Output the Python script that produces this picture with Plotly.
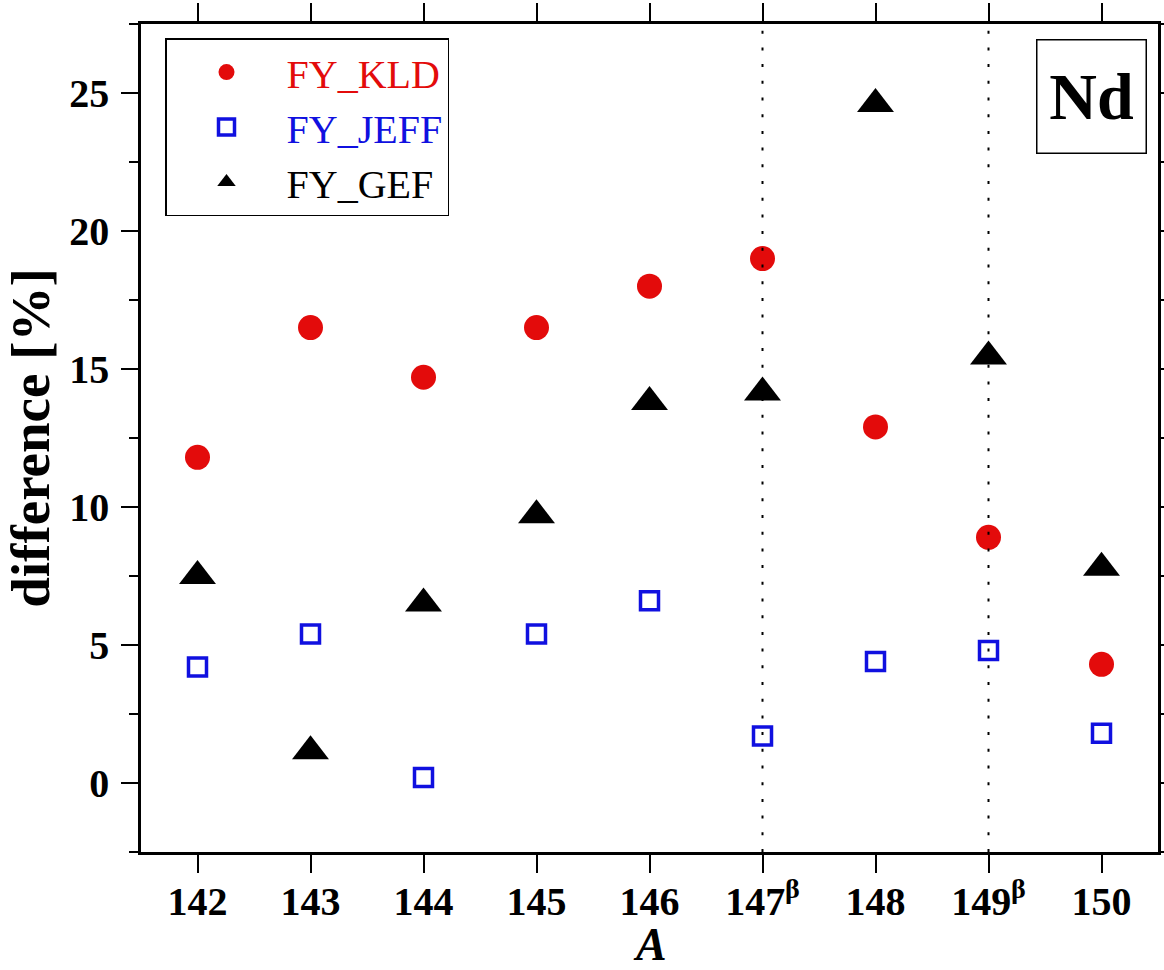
import plotly.graph_objects as go

# Mass number A and fission-yield differences [%] for Nd isotopes
mass_numbers = [142, 143, 144, 145, 146, 147, 148, 149, 150]
tick_labels = ["142", "143", "144", "145", "146", "147<sup>β</sup>", "148", "149<sup>β</sup>", "150"]
fy_kld = [11.8, 16.5, 14.7, 16.5, 18.0, 19.0, 12.9, 8.9, 4.3]
fy_jeff = [4.2, 5.4, 0.2, 5.4, 6.6, 1.7, 4.4, 4.8, 1.8]
fy_gef = [7.5, 1.15, 6.5, 9.7, 13.8, 14.15, 24.6, 15.45, 7.8]
beta_decay_masses = [147, 149]

RED = "#e30b0b"
BLUE = "#1010e0"
BLACK = "#000000"
FONT = "Liberation Serif"

fig = go.Figure()

fig.add_trace(go.Scatter(
    x=mass_numbers, y=fy_kld, mode="markers",
    name=f"<span style='color:{RED}'>FY_KLD</span>",
    marker=dict(symbol="circle", size=25, color=RED),
))
fig.add_trace(go.Scatter(
    x=mass_numbers, y=fy_jeff, mode="markers",
    name=f"<span style='color:{BLUE}'>FY_JEFF</span>",
    marker=dict(symbol="square-open", size=18, color=BLUE, line=dict(width=3.5, color=BLUE)),
))
fig.add_trace(go.Scatter(
    x=mass_numbers, y=fy_gef, mode="markers",
    name="FY_GEF",
    marker=dict(symbol="triangle-up", size=32, color=BLACK),
))

# dotted guides at the beta-decay mass numbers
for a in beta_decay_masses:
    fig.add_shape(
        type="line", xref="x", yref="y domain",
        x0=a, x1=a, y0=0, y1=1,
        line=dict(color=BLACK, width=2, dash="3px,13.7px"),
    )

# element label box
fig.add_annotation(
    text="<b>Nd</b>", xref="paper", yref="paper",
    x=0.9347, y=0.913, xanchor="center", yanchor="middle",
    showarrow=False, font=dict(family=FONT, size=66, color=BLACK),
    width=106, height=110, bordercolor=BLACK, borderwidth=1.5, borderpad=1,
    bgcolor="white",
)

# x-axis title, placed below the tick labels
fig.add_annotation(
    text="<b><i>A</i></b>", xref="paper", yref="paper",
    x=0.5, y=-0.1115, xanchor="center", yanchor="middle",
    showarrow=False, font=dict(family=FONT, size=46, color=BLACK),
)

axis_common = dict(
    showline=True, linecolor=BLACK, linewidth=2.5, mirror="ticks",
    ticks="outside", tickcolor=BLACK, tickwidth=2,
    showgrid=False, zeroline=False, automargin=False,
    tickfont=dict(family=FONT, size=40, color=BLACK, weight="bold"),
)

fig.update_xaxes(
    **axis_common,
    range=[141.5, 150.5],
    tickmode="array", tickvals=mass_numbers, ticktext=tick_labels,
    ticklen=18, ticklabelstandoff=-6,
)
fig.update_yaxes(
    **axis_common,
    range=[-2.5, 27.5],
    tickmode="linear", tick0=0, dtick=5, ticklen=17, ticklabelstandoff=4,
    minor=dict(ticks="outside", dtick=2.5, tick0=0, ticklen=9, tickwidth=2, tickcolor=BLACK),
    title=dict(text="difference [%]", standoff=12,
               font=dict(family=FONT, size=55, color=BLACK, weight="bold")),
)

fig.update_layout(
    width=1164, height=970,
    margin=dict(l=141, r=6, t=24, b=118),
    paper_bgcolor="white", plot_bgcolor="white",
    showlegend=True,
    legend=dict(
        x=0.0236, y=0.983, xanchor="left", yanchor="top",
        font=dict(family=FONT, size=40, color=BLACK),
        bgcolor="white", bordercolor=BLACK, borderwidth=1.5,
        itemwidth=110,
    ),
)

fig.write_html("out.html")
